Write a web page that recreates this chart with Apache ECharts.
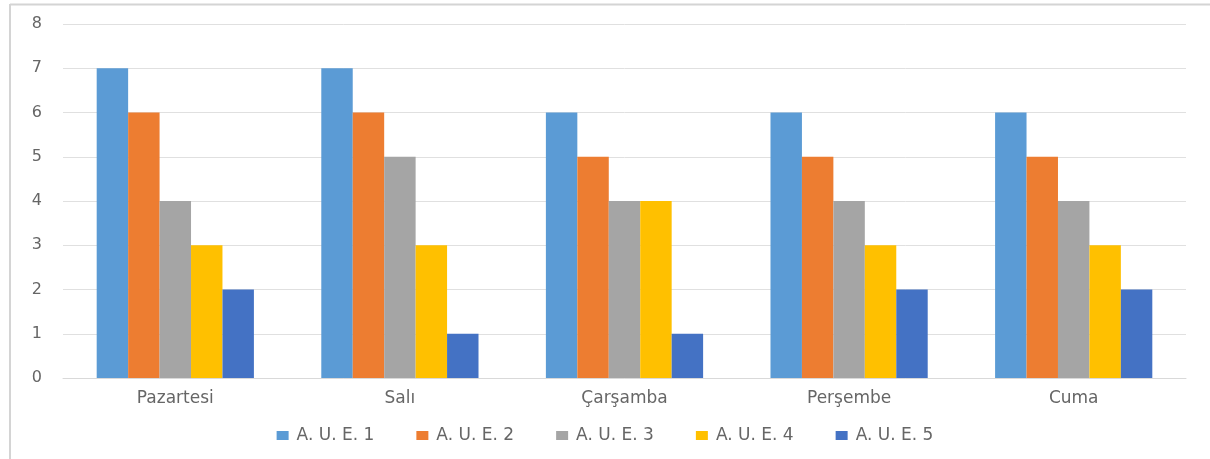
<!DOCTYPE html>
<html>
<head>
<meta charset="utf-8">
<script src="https://cdn.jsdelivr.net/npm/echarts@6/dist/echarts.min.js"></script>
<style>
  html, body { margin: 0; padding: 0; background: #fff; }
  #chart { width: 1210px; height: 459px; }
</style>
</head>
<body>
<div id="chart"></div>
<script>
const days = ['Pazartesi', 'Salı', 'Çarşamba', 'Perşembe', 'Cuma'];
const seriesNames = ['A. U. E. 1', 'A. U. E. 2', 'A. U. E. 3', 'A. U. E. 4', 'A. U. E. 5'];
const aue1 = [7, 7, 6, 6, 6];
const aue2 = [6, 6, 5, 5, 5];
const aue3 = [4, 5, 4, 4, 4];
const aue4 = [3, 3, 4, 3, 3];
const aue5 = [2, 1, 1, 2, 2];
const colors = ['#5B9BD5', '#ED7D31', '#A5A5A5', '#FFC000', '#4472C4'];

const chart = echarts.init(document.getElementById('chart'));
const values = [aue1, aue2, aue3, aue4, aue5];

chart.setOption({
  backgroundColor: '#ffffff',
  textStyle: { fontFamily: 'DejaVu Sans, sans-serif' },
  graphic: [
    { type: 'line', shape: { x1: 10, y1: 4.5, x2: 1210, y2: 4.5 }, style: { stroke: '#d4d4d4', lineWidth: 2 } },
    { type: 'line', shape: { x1: 10, y1: 4, x2: 10, y2: 459 }, style: { stroke: '#d4d4d4', lineWidth: 2 } }
  ],
  legend: {
    data: seriesNames,
    top: 422,
    left: 'center',
    itemWidth: 12,
    itemHeight: 9,
    itemGap: 42,
    icon: 'rect',
    textStyle: { color: '#666666', fontSize: 17, padding: [0, 0, 0, 3] }
  },
  grid: { left: 63, right: 24, top: 24, bottom: 81 },
  xAxis: {
    type: 'category',
    data: days,
    axisLine: { show: true, lineStyle: { color: '#d9d9d9' } },
    axisTick: { show: false },
    axisLabel: { color: '#666666', fontSize: 17, margin: 12 }
  },
  yAxis: {
    type: 'value',
    min: 0,
    max: 8,
    interval: 1,
    axisLine: { show: false },
    axisTick: { show: false },
    axisLabel: { color: '#666666', fontSize: 16, margin: 21 },
    splitLine: { lineStyle: { color: '#e0e0e0' } }
  },
  series: seriesNames.map((name, i) => ({
    name,
    type: 'bar',
    data: values[i],
    barGap: '0%',
    barCategoryGap: '30%',
    itemStyle: { color: colors[i] }
  }))
});
</script>
</body>
</html>
